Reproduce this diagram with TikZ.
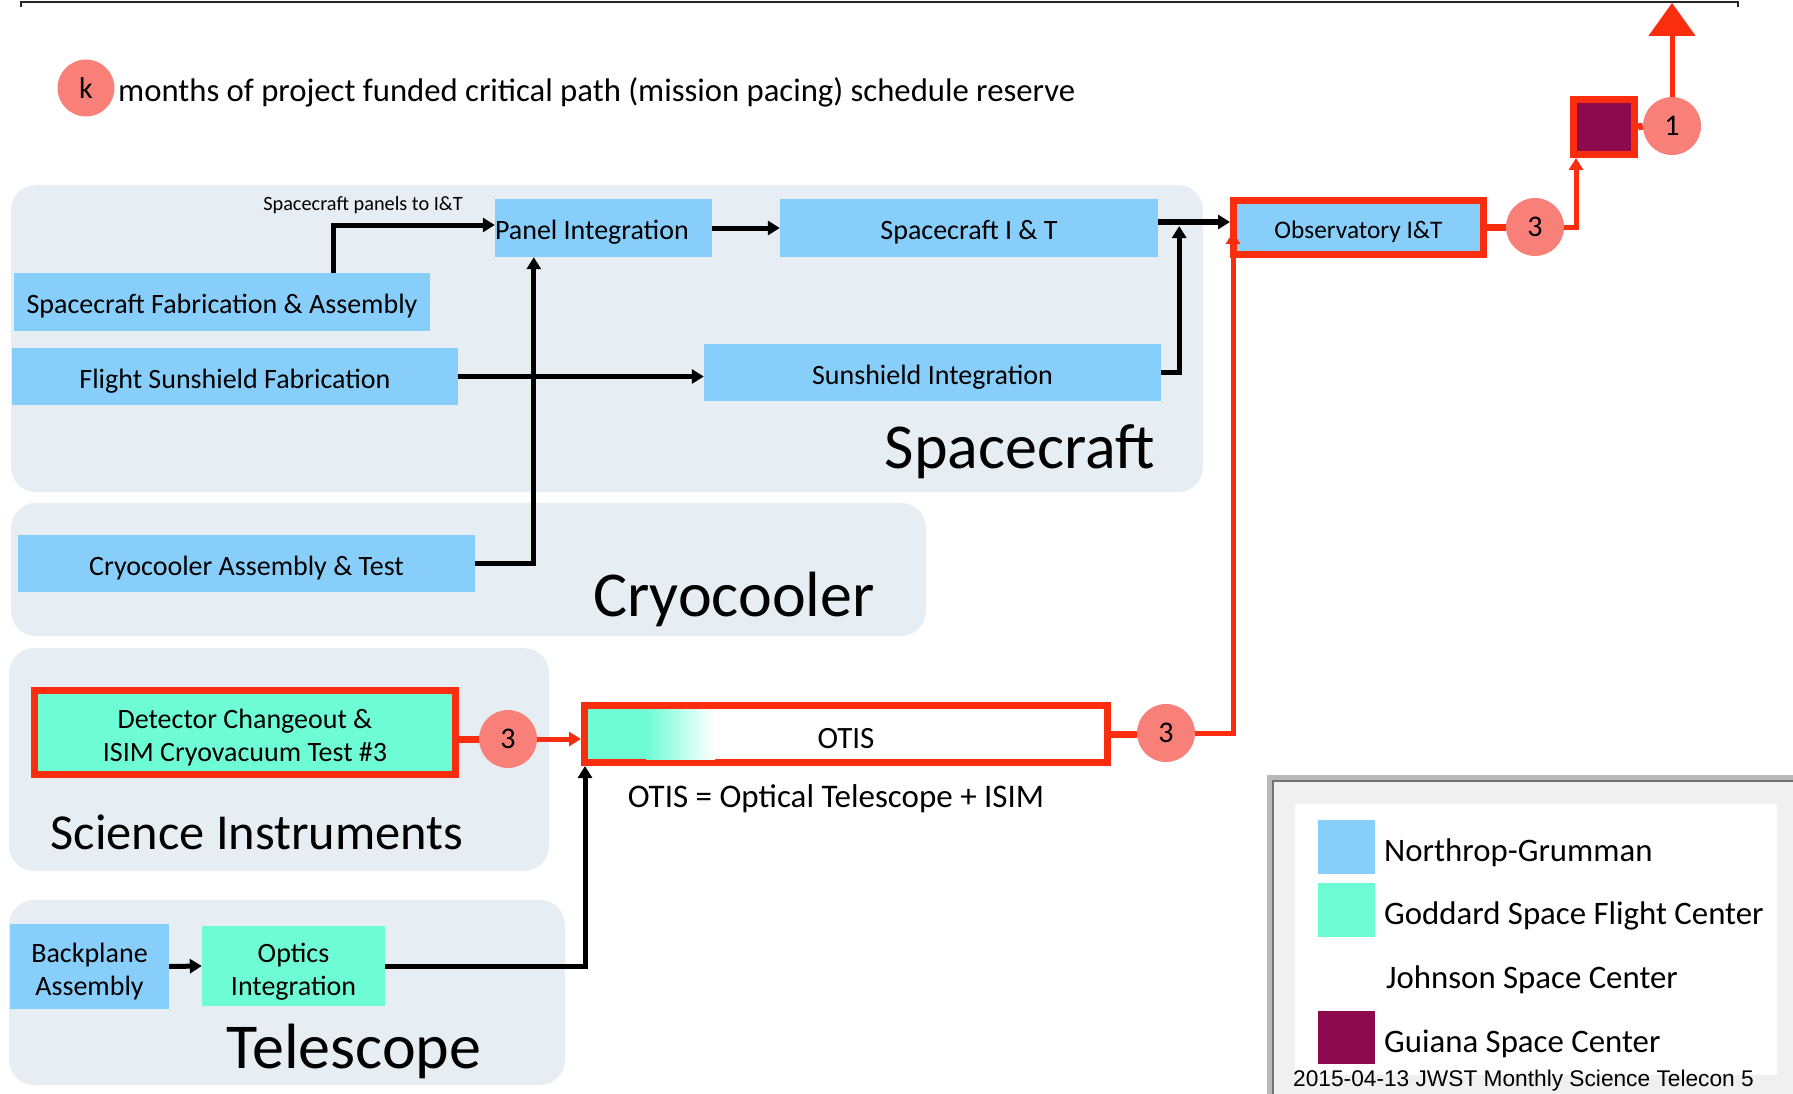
\documentclass[tikz,border=0pt]{standalone}
\usepackage{fontspec}
\setmainfont{Carlito}
\newfontfamily\arialf{Liberation Sans}
\usetikzlibrary{arrows.meta,calc}
\definecolor{ngblue}{RGB}{135,206,250}
\definecolor{gsfc}{RGB}{110,252,212}
\definecolor{grp}{RGB}{230,238,244}
\definecolor{critred}{RGB}{250,45,15}
\definecolor{salmonc}{RGB}{249,128,120}
\definecolor{guiana}{RGB}{142,10,78}
\begin{document}
\begin{tikzpicture}[x=1pt,y=-1pt,
  nbox/.style={fill=ngblue, inner sep=0pt, font=\fontsize{28}{33}\selectfont, align=center, text height=23.6pt, text depth=0pt},
  nbox2/.style={fill=ngblue, inner sep=0pt, font=\fontsize{28}{33}\selectfont, align=center},
  gbox2/.style={fill=gsfc, inner sep=0pt, font=\fontsize{28}{33}\selectfont, align=center},
  redbox/.style={draw=critred, line width=7pt},
  num/.style={circle, fill=salmonc, minimum size=58pt, inner sep=0pt, font=\fontsize{30}{30}\selectfont},
  conn/.style={line width=5pt, -{Triangle[length=12pt,width=14pt]}},
  redl/.style={critred, line width=7pt},
  redarr/.style={critred, line width=5pt, -{Triangle[length=12pt,width=14pt]}},
  biglabel/.style={font=\fontsize{64}{64}\selectfont, inner sep=0pt},
  leglabel/.style={anchor=west, inner sep=0pt, font=\fontsize{32.8}{33}\selectfont}
]
\useasboundingbox (0,0) rectangle (1793,1094);
% top rule
\draw[line width=2pt, black!85] (21,7) -- (21,2) -- (1738,2) -- (1738,7);

% groups
\fill[grp, rounded corners=25pt] (11,185) rectangle (1203,492);
\fill[grp, rounded corners=25pt] (11,503) rectangle (926,636);
\fill[grp, rounded corners=25pt] (9,648) rectangle (549,871);
\fill[grp, rounded corners=25pt] (9,900) rectangle (565,1085);

% group labels
\node[biglabel] (lsc) at (1020,452) {Spacecraft};
\node[biglabel] (lcryo) at (734,599) {Cryocooler};
\node[inner sep=0pt, font=\fontsize{50.4}{50}\selectfont] (lsi) at (257,832) {Science Instruments};
\node[biglabel] (ltel) at (354,1051) {Telescope};

% legend k
\node[num, minimum size=57pt] (kc) at (86,88) {k};
\node[anchor=base west, inner sep=0pt, font=\fontsize{32.7}{33}\selectfont] (ktext) at (118,101.5) {months of project funded critical path (mission pacing) schedule reserve};

% spacecraft boxes
\node[nbox, minimum width=416pt, minimum height=58pt] (scfab) at (222,302) {Spacecraft Fabrication \& Assembly};
\node[nbox, minimum width=446pt, minimum height=57pt] (fsf) at (235,376.5) {Flight Sunshield Fabrication};
\node[nbox, minimum width=217pt, minimum height=58pt] (panel) at (603.5,228) {\makebox[217pt][l]{Panel Integration}};
\node[nbox, minimum width=378pt, minimum height=58pt] (scit) at (969,228) {Spacecraft I \& T};
\node[nbox, minimum width=457pt, minimum height=57pt] (ssi) at (932.5,372.5) {Sunshield Integration};
\node[inner sep=0pt, font=\fontsize{20.3}{20}\selectfont] (paneltxt) at (363,205) {Spacecraft panels to I\&T};

% cryocooler
\node[nbox, minimum width=457pt, minimum height=57pt] (cryo) at (246.5,563.5) {Cryocooler Assembly \& Test};

% science instruments
\node[gbox2, redbox, minimum width=421pt, minimum height=84pt] (det) at (245,732.5) {\rule{0pt}{30pt}Detector Changeout \&\\ISIM Cryovacuum Test \#3};
\node[num] (c3si) at (508,739) {3};

% OTIS
\node[redbox, fill=white, minimum width=523pt, minimum height=57pt, inner sep=0pt] (otis) at (846,734) {};
\fill[gsfc] ($(otis.north west)+(7,7)$) rectangle ($(otis.south west)+(65,-7)$);
\shade[left color=gsfc, right color=white] ($(otis.north west)+(65,7)$) rectangle ($(otis.south west)+(134,-7)$);
\node[inner sep=0pt, font=\fontsize{31}{31}\selectfont] (otislabel) at ($(otis.center)+(0,5)$) {OTIS};
\node[num] (c3otis) at (1166,733) {3};
\node[inner sep=0pt, font=\fontsize{33}{33}\selectfont] (otisdef) at (836,799) {OTIS = Optical Telescope + ISIM};

% telescope
\node[nbox2, minimum width=159pt, minimum height=85pt, text depth=0pt] (bp) at (89.5,966.5) {\rule{0pt}{25pt}Backplane\\Assembly};
\node[gbox2, minimum width=183pt, minimum height=80pt, text depth=0pt] (opt) at (293.5,966) {\rule{0pt}{25pt}Optics\\Integration};

% observatory
\node[nbox, redbox, minimum width=250pt, minimum height=54pt, font=\fontsize{25.3}{25}\selectfont, text height=21.6pt] (obs) at (1358.5,227.5) {Observatory I\&T};
\node[num] (c3obs) at (1535,227) {3};
\node[draw=critred, line width=7pt, fill=guiana, minimum width=61pt, minimum height=55pt, inner sep=0pt] (sq) at (1604,127) {};
\node[num] (c1) at (1672,126) {1};
\coordinate (toptip) at (1669,3);

% black connectors
\draw[conn] ($(scfab.north)+(111,0)$) |- ($(panel.west)+(0,-3)$);
\draw[conn] (panel.east) -- (scit.west);
\draw[conn] ($(scit.east)+(0,-6)$) -- ($(obs.west)+(0,-5.5)$);
\draw[conn] (fsf.east) -- (fsf.east -| ssi.west);
\draw[conn] (ssi.east) -| ($(scit.east)+(21,-2)$);
\draw[conn] (cryo.east) -| ($(panel.south west)+(39,0)$);
\draw[conn] (bp.east) -- (opt.west);
\draw[conn] (opt.east) -| ($(otis.south west)+(4,0)$);

% red connectors
\draw[redl] (det.east |- c3si) -- (c3si.west);
\draw[redarr] (c3si.east) -- (c3si.east -| otis.west);
\draw[redl] (otis.east) -- (otis.east -| c3otis.west);
\draw[redarr] (c3otis.east) -| ($(obs.south west)+(3,-26)$);
\draw[redl] (obs.east) -- (obs.east -| c3obs.west);
\draw[redarr] (c3obs.east) -| ($(sq.south west)+(6,0)$);
\draw[redl] (sq.east) -- (c1.west);
\draw[critred, line width=5pt, -{Triangle[length=33pt,width=46pt]}] (c1.north) -- (c1.north |- toptip);

% legend box
\fill[gray!12] (1269,777) rectangle (1800,1100);
\draw[line width=5pt, gray!55] (1269,777) rectangle (1800,1100);
\draw[line width=1.5pt, black!55] (1273,781) rectangle (1800,1100);
\fill[white] (1295,804) rectangle (1777,1075);
\fill[ngblue] (1318,820) rectangle (1375,874);
\fill[gsfc] (1318,883) rectangle (1375,937);
\fill[guiana] (1318,1011) rectangle (1375,1064);
\node[leglabel] (lg1) at (1384,852.5) {Northrop-Grumman};
\node[leglabel] (lg2) at (1384,915.5) {Goddard Space Flight Center};
\node[leglabel] (lg3) at (1386,980) {Johnson Space Center};
\node[leglabel] (lg4) at (1384,1043.5) {Guiana Space Center};
\node[anchor=west, inner sep=0pt, font=\arialf\fontsize{22.7}{23}\selectfont] (footer) at (1293,1081) {2015-04-13 JWST Monthly Science Telecon 5};
\end{tikzpicture}
\end{document}
